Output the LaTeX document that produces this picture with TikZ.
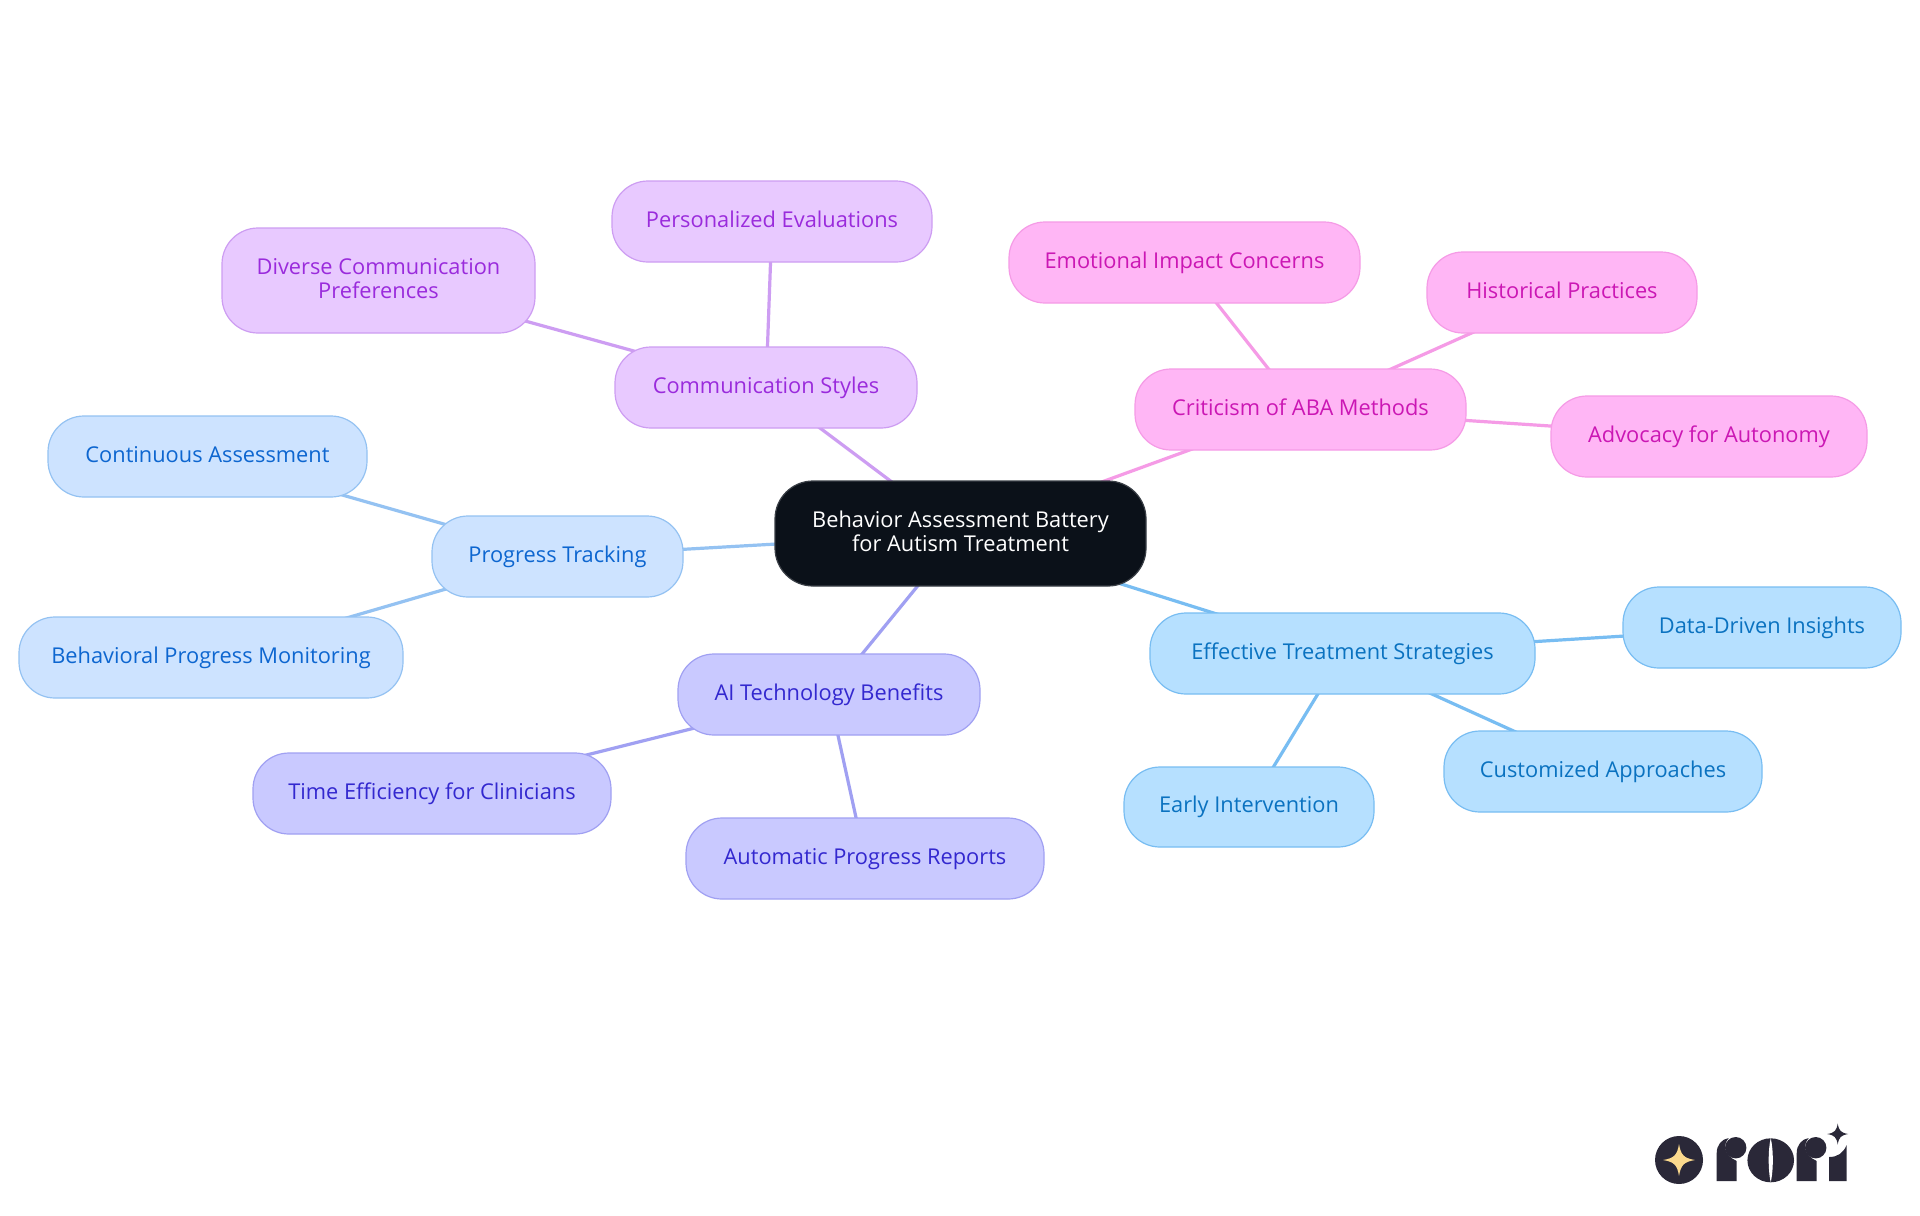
\documentclass[tikz,border=0pt]{standalone}
\usepackage{fontspec}
\setmainfont{Open Sans}
\usetikzlibrary{backgrounds}
\definecolor{rootfill}{HTML}{0B1119}
\definecolor{rootline}{HTML}{3A3F46}
\definecolor{purf}{HTML}{E8C9FF}\definecolor{purd}{HTML}{CD9DF2}\definecolor{purt}{HTML}{9A2BDC}
\definecolor{pinf}{HTML}{FFB6F5}\definecolor{pind}{HTML}{F59BE6}\definecolor{pint}{HTML}{CB17B4}
\definecolor{skyf}{HTML}{B6E0FF}\definecolor{skyd}{HTML}{78BDF2}\definecolor{skyt}{HTML}{0A72C0}
\definecolor{vioF}{HTML}{C9C9FF}\definecolor{viod}{HTML}{A0A0F2}\definecolor{viot}{HTML}{3328CF}
\definecolor{bluf}{HTML}{CDE3FF}\definecolor{blud}{HTML}{94C2F2}\definecolor{blut}{HTML}{0D66D0}
\definecolor{logod}{HTML}{2A2838}\definecolor{logoy}{HTML}{FBD98D}
\tikzset{
 x=0.5pt,y=-0.5pt,
 pill/.style={draw,rounded corners=18pt,line width=0.6pt,align=center,inner sep=0pt,text height=8pt,text depth=2.5pt,font=\fontsize{10.9}{12}\selectfont},
 twoline/.style={text height=20.5pt,text depth=2.5pt},
 rootpill/.style={pill,twoline,rounded corners=19pt,fill=rootfill,draw=rootline,text=white},
 purn/.style={pill,fill=purf,draw=purd,text=purt},
 pinn/.style={pill,fill=pinf,draw=pind,text=pint},
 skyn/.style={pill,fill=skyf,draw=skyd,text=skyt},
 vion/.style={pill,fill=vioF,draw=viod,text=viot},
 blun/.style={pill,fill=bluf,draw=blud,text=blut},
 edge/.style={line width=1.6pt}
}
% \pillnode{name}{style}{x0}{y0}{x1}{y1}{text} in full-size pixels
\newcommand{\pillnode}[7]{%
 \pgfmathsetmacro{\pcx}{(#3+#5)/2}\pgfmathsetmacro{\pcy}{(#4+#6)/2}%
 \pgfmathsetmacro{\pw}{(#5-#3)*0.5}\pgfmathsetmacro{\ph}{(#6-#4)*0.5}%
 \node[#2,minimum width=\pw pt,minimum height=\ph pt] (#1) at (\pcx,\pcy) {#7};}
% four-point star: colour, cx, cy, r
\newcommand{\logostar}[4]{%
 \fill[#1] (#2,#3-#4) .. controls (#2+0.12*#4,#3-0.3*#4) and (#2+0.3*#4,#3-0.12*#4) .. (#2+#4,#3)
  .. controls (#2+0.3*#4,#3+0.12*#4) and (#2+0.12*#4,#3+0.3*#4) .. (#2,#3+#4)
  .. controls (#2-0.12*#4,#3+0.3*#4) and (#2-0.3*#4,#3+0.12*#4) .. (#2-#4,#3)
  .. controls (#2-0.3*#4,#3-0.12*#4) and (#2-0.12*#4,#3-0.3*#4) .. (#2,#3-#4) -- cycle;}
% letter r: left x of stem
\newcommand{\logor}[1]{%
 \fill[logod] (#1,1181) -- (#1,1153) .. controls (#1,1145) and (#1+5,1139) .. (#1+12,1138)
  .. controls (#1+6,1145) and (#1+7,1155) .. (#1+20,1161) -- (#1+20,1181) -- cycle;
 \fill[logod] (#1+19,1147.7) circle[radius=10.7];}
\begin{document}
\begin{tikzpicture}
\useasboundingbox (0,0) rectangle (1920,1215);
\pillnode{root}{rootpill}{775}{481}{1146}{586}{Behavior Assessment Battery\\for Autism Treatment}
\pillnode{comm}{purn}{615}{347}{917}{428}{Communication Styles}
\pillnode{pers}{purn}{612}{181}{932}{262}{Personalized Evaluations}
\pillnode{dive}{purn,twoline}{222}{228}{535}{333}{Diverse Communication\\Preferences}
\pillnode{prog}{blun}{432}{516}{683}{597}{Progress Tracking}
\pillnode{cont}{blun}{48}{416}{367}{497}{Continuous Assessment}
\pillnode{beha}{blun}{19}{617}{403}{698}{Behavioral Progress Monitoring}
\pillnode{aite}{vion}{678}{654}{980}{735}{AI Technology Benefits}
\pillnode{time}{vion}{253}{753}{611}{834}{Time Efficiency for Clinicians}
\pillnode{auto}{vion}{686}{818}{1044}{899}{Automatic Progress Reports}
\pillnode{crit}{pinn}{1135}{369}{1466}{450}{Criticism of ABA Methods}
\pillnode{emot}{pinn}{1009}{222}{1360}{303}{Emotional Impact Concerns}
\pillnode{hist}{pinn}{1427}{252}{1697}{333}{Historical Practices}
\pillnode{advo}{pinn}{1551}{396}{1867}{477}{Advocacy for Autonomy}
\pillnode{effe}{skyn}{1150}{613}{1535}{694}{Effective Treatment Strategies}
\pillnode{data}{skyn}{1623}{587}{1901}{668}{Data-Driven Insights}
\pillnode{cust}{skyn}{1444}{731}{1762}{812}{Customized Approaches}
\pillnode{earl}{skyn}{1124}{767}{1374}{847}{Early Intervention}
\begin{scope}[on background layer]
\fill[white] (0,0) rectangle (1920,1215);
\draw[edge,purd] (root.center) -- (comm.center);
\draw[edge,purd] (comm.center) -- (pers.center);
\draw[edge,purd] (comm.center) -- (dive.center);
\draw[edge,blud] (root.center) -- (prog.center);
\draw[edge,blud] (prog.center) -- (cont.center);
\draw[edge,blud] (prog.center) -- (beha.center);
\draw[edge,viod] (root.center) -- (aite.center);
\draw[edge,viod] (aite.center) -- (time.center);
\draw[edge,viod] (aite.center) -- (auto.center);
\draw[edge,pind] (root.center) -- (crit.center);
\draw[edge,pind] (crit.center) -- (emot.center);
\draw[edge,pind] (crit.center) -- (hist.center);
\draw[edge,pind] (crit.center) -- (advo.center);
\draw[edge,skyd] (root.center) -- (effe.center);
\draw[edge,skyd] (effe.center) -- (data.center);
\draw[edge,skyd] (effe.center) -- (cust.center);
\draw[edge,skyd] (effe.center) -- (earl.center);
\end{scope}
% logo
\fill[logod] (1679,1160) circle[radius=24];
\logostar{logoy}{1679}{1160}{16}
\logor{1716.7}
\fill[logod] (1770.7,1160.3) ellipse[x radius=23.3,y radius=22];
\fill[white] (1770.7,1138) .. controls (1773.5,1150) and (1773.5,1170) .. (1770.7,1182.5) .. controls (1768,1170) and (1768,1150) .. (1770.7,1138) -- cycle;
\logor{1796.7}
\fill[logod] (1829,1181) -- (1829,1157) .. controls (1838,1157) and (1843,1153) .. (1846.7,1145) -- (1846.7,1181) -- cycle;
\logostar{logod}{1837.7}{1134}{10.5}
\end{tikzpicture}
\end{document}
